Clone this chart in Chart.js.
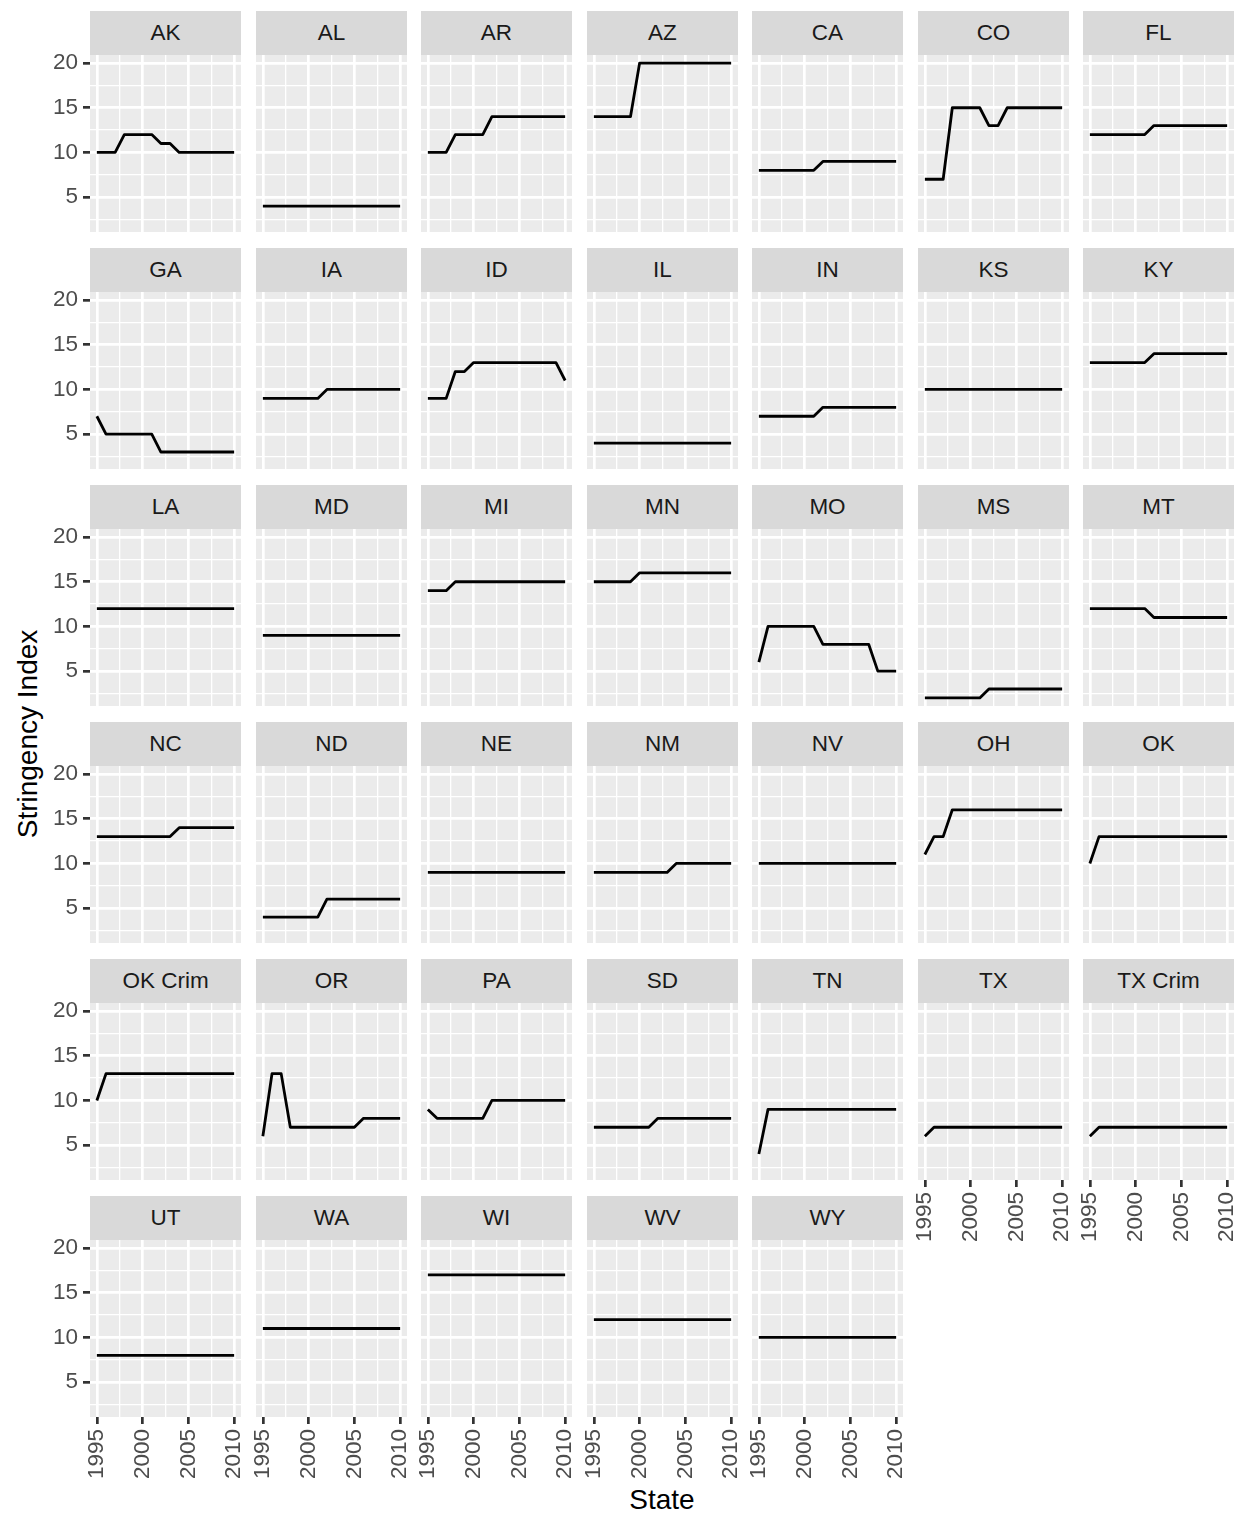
<!DOCTYPE html>
<html>
<head>
<meta charset="utf-8">
<title>Stringency Index by State</title>
<script src="https://cdn.jsdelivr.net/npm/chart.js@4"></script>
<style>
  body { margin: 0; background: #ffffff; }
  #page { position: relative; width: 1257px; height: 1515px; font-family: "Liberation Sans", Arial, sans-serif; overflow: hidden; }
  .strip { position: absolute; background: #D9D9D9; color: #1A1A1A; font-size: 22.5px;
           display: flex; align-items: center; justify-content: center; }
  canvas { position: absolute; }
  .ttl { position: absolute; color: #000000; font-size: 28px; white-space: nowrap; }
</style>
</head>
<body>
<div id="page">
  <div class="ttl" id="ytitle">Stringency Index</div>
  <div class="ttl" id="xtitle">State</div>
</div>
<script>
// data
const years = [1995, 1996, 1997, 1998, 1999, 2000, 2001, 2002, 2003, 2004, 2005, 2006, 2007, 2008, 2009, 2010];
const xMajor = [1995, 2000, 2005, 2010];
const xMinor = [1997.5, 2002.5, 2007.5];
const yMajor = [5, 10, 15, 20];
const yMinor = [2.5, 7.5, 12.5, 17.5];

const states = ['AK', 'AL', 'AR', 'AZ', 'CA', 'CO', 'FL',
                'GA', 'IA', 'ID', 'IL', 'IN', 'KS', 'KY',
                'LA', 'MD', 'MI', 'MN', 'MO', 'MS', 'MT',
                'NC', 'ND', 'NE', 'NM', 'NV', 'OH', 'OK',
                'OK Crim', 'OR', 'PA', 'SD', 'TN', 'TX', 'TX Crim',
                'UT', 'WA', 'WI', 'WV', 'WY'];

const AK = [10, 10, 10, 12, 12, 12, 12, 11, 11, 10, 10, 10, 10, 10, 10, 10];
const AL = [4, 4, 4, 4, 4, 4, 4, 4, 4, 4, 4, 4, 4, 4, 4, 4];
const AR = [10, 10, 10, 12, 12, 12, 12, 14, 14, 14, 14, 14, 14, 14, 14, 14];
const AZ = [14, 14, 14, 14, 14, 20, 20, 20, 20, 20, 20, 20, 20, 20, 20, 20];
const CA = [8, 8, 8, 8, 8, 8, 8, 9, 9, 9, 9, 9, 9, 9, 9, 9];
const CO = [7, 7, 7, 15, 15, 15, 15, 13, 13, 15, 15, 15, 15, 15, 15, 15];
const FL = [12, 12, 12, 12, 12, 12, 12, 13, 13, 13, 13, 13, 13, 13, 13, 13];
const GA = [7, 5, 5, 5, 5, 5, 5, 3, 3, 3, 3, 3, 3, 3, 3, 3];
const IA = [9, 9, 9, 9, 9, 9, 9, 10, 10, 10, 10, 10, 10, 10, 10, 10];
const ID = [9, 9, 9, 12, 12, 13, 13, 13, 13, 13, 13, 13, 13, 13, 13, 11];
const IL = [4, 4, 4, 4, 4, 4, 4, 4, 4, 4, 4, 4, 4, 4, 4, 4];
const IN = [7, 7, 7, 7, 7, 7, 7, 8, 8, 8, 8, 8, 8, 8, 8, 8];
const KS = [10, 10, 10, 10, 10, 10, 10, 10, 10, 10, 10, 10, 10, 10, 10, 10];
const KY = [13, 13, 13, 13, 13, 13, 13, 14, 14, 14, 14, 14, 14, 14, 14, 14];
const LA = [12, 12, 12, 12, 12, 12, 12, 12, 12, 12, 12, 12, 12, 12, 12, 12];
const MD = [9, 9, 9, 9, 9, 9, 9, 9, 9, 9, 9, 9, 9, 9, 9, 9];
const MI = [14, 14, 14, 15, 15, 15, 15, 15, 15, 15, 15, 15, 15, 15, 15, 15];
const MN = [15, 15, 15, 15, 15, 16, 16, 16, 16, 16, 16, 16, 16, 16, 16, 16];
const MO = [6, 10, 10, 10, 10, 10, 10, 8, 8, 8, 8, 8, 8, 5, 5, 5];
const MS = [2, 2, 2, 2, 2, 2, 2, 3, 3, 3, 3, 3, 3, 3, 3, 3];
const MT = [12, 12, 12, 12, 12, 12, 12, 11, 11, 11, 11, 11, 11, 11, 11, 11];
const NC = [13, 13, 13, 13, 13, 13, 13, 13, 13, 14, 14, 14, 14, 14, 14, 14];
const ND = [4, 4, 4, 4, 4, 4, 4, 6, 6, 6, 6, 6, 6, 6, 6, 6];
const NE = [9, 9, 9, 9, 9, 9, 9, 9, 9, 9, 9, 9, 9, 9, 9, 9];
const NM = [9, 9, 9, 9, 9, 9, 9, 9, 9, 10, 10, 10, 10, 10, 10, 10];
const NV = [10, 10, 10, 10, 10, 10, 10, 10, 10, 10, 10, 10, 10, 10, 10, 10];
const OH = [11, 13, 13, 16, 16, 16, 16, 16, 16, 16, 16, 16, 16, 16, 16, 16];
const OK = [10, 13, 13, 13, 13, 13, 13, 13, 13, 13, 13, 13, 13, 13, 13, 13];
const OK_Crim = [10, 13, 13, 13, 13, 13, 13, 13, 13, 13, 13, 13, 13, 13, 13, 13];
const OR = [6, 13, 13, 7, 7, 7, 7, 7, 7, 7, 7, 8, 8, 8, 8, 8];
const PA = [9, 8, 8, 8, 8, 8, 8, 10, 10, 10, 10, 10, 10, 10, 10, 10];
const SD = [7, 7, 7, 7, 7, 7, 7, 8, 8, 8, 8, 8, 8, 8, 8, 8];
const TN = [4, 9, 9, 9, 9, 9, 9, 9, 9, 9, 9, 9, 9, 9, 9, 9];
const TX = [6, 7, 7, 7, 7, 7, 7, 7, 7, 7, 7, 7, 7, 7, 7, 7];
const TX_Crim = [6, 7, 7, 7, 7, 7, 7, 7, 7, 7, 7, 7, 7, 7, 7, 7];
const UT = [8, 8, 8, 8, 8, 8, 8, 8, 8, 8, 8, 8, 8, 8, 8, 8];
const WA = [11, 11, 11, 11, 11, 11, 11, 11, 11, 11, 11, 11, 11, 11, 11, 11];
const WI = [17, 17, 17, 17, 17, 17, 17, 17, 17, 17, 17, 17, 17, 17, 17, 17];
const WV = [12, 12, 12, 12, 12, 12, 12, 12, 12, 12, 12, 12, 12, 12, 12, 12];
const WY = [10, 10, 10, 10, 10, 10, 10, 10, 10, 10, 10, 10, 10, 10, 10, 10];

const stateValues = [AK, AL, AR, AZ, CA, CO, FL, GA, IA, ID, IL, IN, KS, KY,
                     LA, MD, MI, MN, MO, MS, MT, NC, ND, NE, NM, NV, OH, OK,
                     OK_Crim, OR, PA, SD, TN, TX, TX_Crim, UT, WA, WI, WV, WY];

Chart.defaults.font.family = '"Liberation Sans", Arial, sans-serif';
Chart.defaults.animation = false;

// layout of the facet grid (pixels)
const nCols = 7;
const plotW = 151, plotH = 177;
const stripH = 44;
const margin = 14;
const xAxisH = 80;

function panelLeft(col) { return Math.round(90 + col * 165.5); }
function panelTop(row) { return 55 + row * 237; }

const panelBg = {
  id: 'panelBg',
  beforeDraw(chart) {
    const a = chart.chartArea;
    const ctx = chart.ctx;
    ctx.save();
    ctx.fillStyle = '#EBEBEB';
    ctx.fillRect(a.left, a.top, a.right - a.left, a.bottom - a.top);
    ctx.restore();
  }
};

const page = document.getElementById('page');

function makePanel(i) {
  const row = Math.floor(i / nCols);
  const col = i % nCols;
  const left = panelLeft(col);
  const top = panelTop(row);
  const showY = col === 0;
  const showX = i + nCols >= states.length;

  // strip
  const strip = document.createElement('div');
  strip.className = 'strip';
  strip.style.left = left + 'px';
  strip.style.top = (top - stripH) + 'px';
  strip.style.width = plotW + 'px';
  strip.style.height = stripH + 'px';
  strip.textContent = states[i];
  page.appendChild(strip);

  const canvas = document.createElement('canvas');
  const cLeft = showY ? 0 : left - margin;
  const cTop = top - 4;
  const cW = (left - cLeft) + plotW + margin;
  const cH = 4 + plotH + (showX ? xAxisH : 4);
  canvas.width = cW;
  canvas.height = cH;
  canvas.style.left = cLeft + 'px';
  canvas.style.top = cTop + 'px';
  canvas.style.width = cW + 'px';
  canvas.style.height = cH + 'px';
  page.appendChild(canvas);

  const pts = years.map((y, k) => ({ x: y, y: stateValues[i][k] }));

  new Chart(canvas.getContext('2d'), {
    type: 'line',
    data: {
      datasets: [{
        data: pts,
        borderColor: '#000000',
        borderWidth: 2.8,
        pointRadius: 0,
        tension: 0,
        fill: false,
        borderJoinStyle: 'round',
        borderCapStyle: 'butt'
      }]
    },
    plugins: [panelBg],
    options: {
      responsive: false,
      devicePixelRatio: 1,
      events: [],
      layout: {
        padding: { left: showY ? 0 : margin, right: margin, top: 4, bottom: showX ? 0 : 4 }
      },
      plugins: { legend: { display: false }, tooltip: { enabled: false }, title: { display: false } },
      scales: {
        x: {
          type: 'linear',
          min: 1994.25,
          max: 2010.75,
          bounds: 'data',
          afterBuildTicks: s => { s.ticks = xMinor.concat(xMajor).sort((a, b) => a - b).map(v => ({ value: v })); },
          afterFit: s => { s.height = showX ? xAxisH : 0; s.paddingLeft = 0; s.paddingRight = 0; },
          border: { display: false },
          grid: {
            color: '#FFFFFF',
            lineWidth: c => xMajor.includes(c.tick.value) ? 2.7 : 1.3,
            drawTicks: showX,
            tickLength: 7,
            tickColor: c => xMajor.includes(c.tick.value) ? '#333333' : 'rgba(0,0,0,0)',
            tickWidth: 2.7
          },
          ticks: {
            display: showX,
            autoSkip: false,
            minRotation: 90,
            maxRotation: 90,
            padding: 5,
            color: '#4D4D4D',
            font: { size: 22.5 },
            callback: v => xMajor.includes(v) ? String(v) : ''
          }
        },
        y: {
          type: 'linear',
          min: 1.1,
          max: 20.9,
          bounds: 'data',
          afterBuildTicks: s => { s.ticks = yMinor.concat(yMajor).sort((a, b) => a - b).map(v => ({ value: v })); },
          afterFit: s => { s.width = showY ? left : 0; s.paddingTop = 0; s.paddingBottom = 0; },
          border: { display: false },
          grid: {
            color: '#FFFFFF',
            lineWidth: c => yMajor.includes(c.tick.value) ? 2.7 : 1.3,
            drawTicks: showY,
            tickLength: 7,
            tickColor: c => yMajor.includes(c.tick.value) ? '#333333' : 'rgba(0,0,0,0)',
            tickWidth: 2.7
          },
          ticks: {
            display: showY,
            autoSkip: false,
            padding: 5,
            color: '#4D4D4D',
            font: { size: 22.5 },
            callback: v => yMajor.includes(v) ? String(v) : ''
          }
        }
      }
    }
  });
}

states.forEach((s, i) => makePanel(i));

// axis titles
const yt = document.getElementById('ytitle');
yt.style.left = '28px';
yt.style.top = '734px';
yt.style.transform = 'translate(-50%, -50%) rotate(-90deg)';
const xt = document.getElementById('xtitle');
xt.style.left = '662px';
xt.style.top = '1500px';
xt.style.transform = 'translate(-50%, -50%)';
</script>
</body>
</html>
